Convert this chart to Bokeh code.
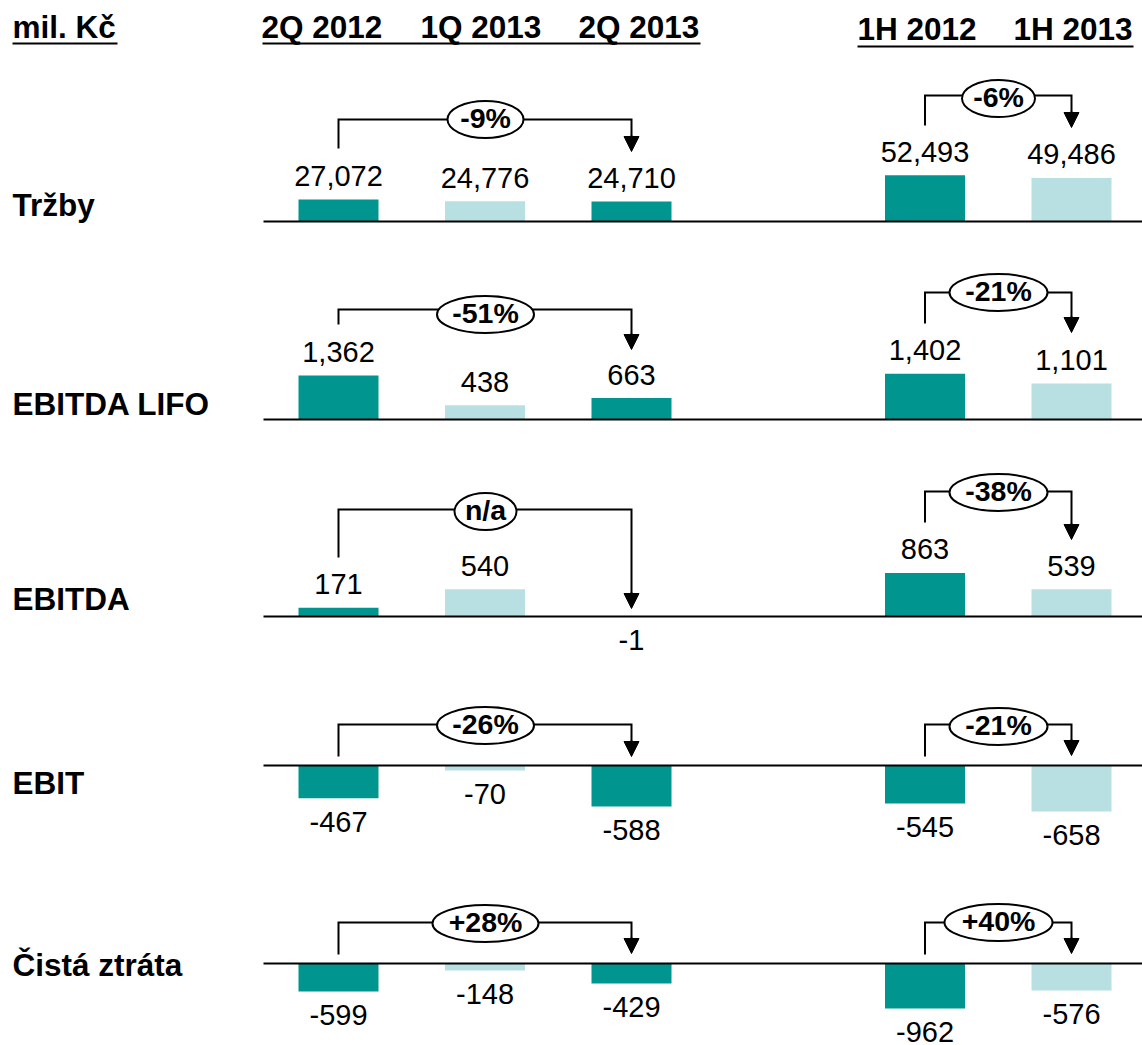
from bokeh.plotting import figure
from bokeh.models import Range1d, Arrow, NormalHead
from bokeh.core.properties import value
from bokeh.embed import file_html
from bokeh.resources import INLINE

# ---------------- data ----------------
unit_label = "mil. Kč"
row_names = ["Tržby", "EBITDA LIFO", "EBITDA", "EBIT", "Čistá ztráta"]
q_periods = ["2Q 2012", "1Q 2013", "2Q 2013"]
h_periods = ["1H 2012", "1H 2013"]

trzby_q = [27072, 24776, 24710]
trzby_h = [52493, 49486]
ebitda_lifo_q = [1362, 438, 663]
ebitda_lifo_h = [1402, 1101]
ebitda_q = [171, 540, -1]
ebitda_h = [863, 539]
ebit_q = [-467, -70, -588]
ebit_h = [-545, -658]
cista_ztrata_q = [-599, -148, -429]
cista_ztrata_h = [-962, -576]

change_q = ["-9%", "-51%", "n/a", "-26%", "+28%"]
change_h = ["-6%", "-21%", "-38%", "-21%", "+40%"]

values_q = [trzby_q, ebitda_lifo_q, ebitda_q, ebit_q, cista_ztrata_q]
values_h = [trzby_h, ebitda_lifo_h, ebitda_h, ebit_h, cista_ztrata_h]

# ---------------- layout / style ----------------
FONT = value("Liberation Sans")
DARK = "#00968F"
LIGHT = "#B8E0E2"
Q_COLORS = [DARK, LIGHT, DARK]
H_COLORS = [DARK, LIGHT]
Q_X = [338, 484.5, 631]
H_X = [924.5, 1071]
BAR_W = 80
W, H = 1142, 1045
TOP, BOTTOM = 0, H
ROW_BASE = [221, 419, 616, 765, 963]
SCALE_Q = [1230, 31, 19.8, 14.3, 21.4]   # value units per pixel
SCALE_H = [1135, 30.6, 19.8, 14.3, 21.4]
LABEL_Y = [217, 416, 611, 795, 977]
BR_Q = [(119, 148, 151), (309, 324, 349), (509, 557, 608), (724, 756, 756), (922, 954, 953)]
BR_H = [(95, 125, 127), (292, 323, 332), (491, 522, 539), (724, 756, 755), (922, 954, 953)]
ELL_Q_Y = [119, 314, 511, 725, 923]
ELL_H_Y = [98, 292, 492, 726, 922]
ELL_Q_W = [76, 97, 62, 97, 106]
ELL_H_W = [73, 98, 98, 98, 108]
ELL_H = 37
SHIFT = 0.4  # baseline correction, in em

p = figure(width=W, height=H, x_range=Range1d(0, W), y_range=Range1d(BOTTOM, TOP),
           output_backend="svg", toolbar_location=None, min_border=0,
           x_axis_location=None, y_axis_location=None, outline_line_color=None)
p.grid.visible = False
p.background_fill_color = "white"
p.border_fill_color = "white"


def txt(x, y, text, size, bold=False, align="left", **kw):
    p.text(x=x, y=y, text=text, text_font=FONT, text_font_style="bold" if bold else "normal",
           text_font_size=f"{size}px", text_baseline="alphabetic", text_align=align, **kw)


# headers
HS = 31.5
txt([12], [39 - SHIFT * HS], [unit_label], HS, True)
txt([261, 420, 578], [39 - SHIFT * HS] * 3, q_periods, HS, True)
txt([857, 1013], [41 - SHIFT * HS] * 2, h_periods, HS, True)
p.segment(x0=[12, 262, 857], y0=[43, 43, 46], x1=[117, 700, 1133], y1=[43, 43, 46],
          line_color="black", line_width=2)

# row labels
txt([12] * len(row_names), [y - SHIFT * HS for y in LABEL_Y], row_names, HS, True)

ranges = {}
for i in range(len(row_names)):
    b = ROW_BASE[i]
    for grp, sc in (("q", SCALE_Q[i]), ("h", SCALE_H[i])):
        ranges[f"r{i}{grp}"] = Range1d(start=(b - BOTTOM) * sc, end=(b - TOP) * sc)
p.extra_y_ranges = ranges

VS = 29
for i in range(len(row_names)):
    for grp, xs, vals, cols in (("q", Q_X, values_q[i], Q_COLORS),
                                ("h", H_X, values_h[i], H_COLORS)):
        name = f"r{i}{grp}"
        p.vbar(x=xs, top=vals, bottom=0, width=BAR_W, fill_color=cols, line_color=None,
               y_range_name=name)
        offs = [(-12 if v >= 0 else 35) - SHIFT * VS for v in vals]
        txt(xs, vals, [f"{v:,}" for v in vals], VS, False, "center",
            y_offset=offs, y_range_name=name)
    # baseline
    p.segment(x0=[263], y0=[0], x1=[1142], y1=[0], line_color="black", line_width=2,
              y_range_name=f"r{i}q")

    # brackets
    for (h, s, t), xs, ex, ey, ew, lab in ((BR_Q[i], Q_X, 485, ELL_Q_Y[i], ELL_Q_W[i], change_q[i]),
                                           (BR_H[i], H_X, 998, ELL_H_Y[i], ELL_H_W[i], change_h[i])):
        x0, x1 = xs[0], xs[-1]
        p.line(x=[x0, x0, x1, x1], y=[s, h, h, t - 10], line_color="black", line_width=2,
               line_join="miter")
        p.add_layout(Arrow(end=NormalHead(size=15, fill_color="black", line_color="black", line_width=1),
                           x_start=x1, y_start=t - 16, x_end=x1, y_end=t,
                           line_color="black", line_width=2))
        p.ellipse(x=[ex], y=[ey], width=[ew], height=[ELL_H], width_units="screen",
                  height_units="screen", fill_color="white", line_color="black", line_width=2)
        PS = 28.5
        txt([ex], [ey + 10 - SHIFT * PS], [lab], PS, True, "center")

open("out.html", "w").write(file_html(p, INLINE))
